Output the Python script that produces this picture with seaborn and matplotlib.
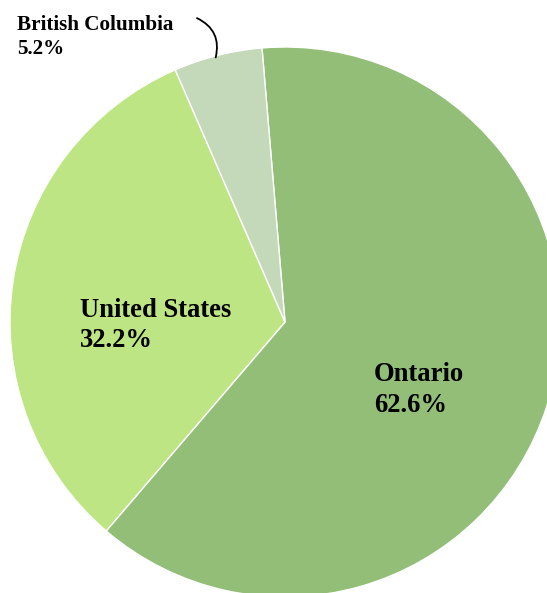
import matplotlib
matplotlib.use("Agg")
import matplotlib.pyplot as plt
import seaborn as sns

regions = ["Ontario", "United States", "British Columbia"]
shares = [62.6, 32.2, 5.2]
colors = ["#92BE78", "#BEE584", "#C3D9BA"]

sns.set_theme(style="white")
plt.rcParams["font.family"] = ["Liberation Serif", "DejaVu Serif"]

fig = plt.figure(figsize=(5.47, 5.93), dpi=100)
ax = fig.add_axes([0, 0, 1, 1])

ax.pie(
    shares,
    colors=colors,
    startangle=94.8,
    counterclock=False,
    radius=1.0,
    wedgeprops={"edgecolor": "white", "linewidth": 1},
)

ax.set_xlim(-285 / 275, (547 - 285) / 275)
ax.set_ylim(-(593 - 322) / 275, 322 / 275)
ax.set_aspect("auto")
ax.axis("off")

# etiquetas
ax.text(0.324, -0.246, f"{regions[0]}\n{shares[0]}%", ha="left", va="center",
        fontsize=19.2, fontweight="bold", color="black", linespacing=1.3)
ax.text(-0.745, -0.013, f"{regions[1]}\n{shares[1]}%", ha="left", va="center",
        fontsize=19.2, fontweight="bold", color="black", linespacing=1.3)
ax.text(-0.975, 1.035, f"{regions[2]}\n{shares[2]}%", ha="left", va="center",
        fontsize=15.2, fontweight="bold", color="black", linespacing=1.25)

ax.annotate("", xy=(-0.252, 0.962), xytext=(-0.32, 1.105),
            arrowprops=dict(arrowstyle="-", color="black", lw=1.3,
                            connectionstyle="arc3,rad=-0.4",
                            shrinkA=0, shrinkB=0))

fig.savefig("out.png", dpi=100)
plt.close(fig)
